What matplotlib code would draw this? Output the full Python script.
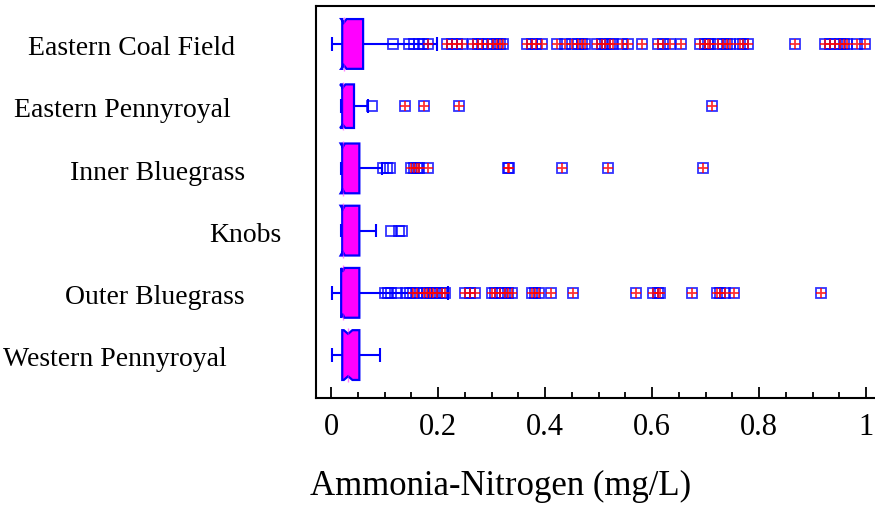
import matplotlib
matplotlib.use("Agg")
import matplotlib.pyplot as plt
from matplotlib.transforms import blended_transform_factory

# box-and-whisker summary per region (mg/L)
regions = ["Eastern Coal Field", "Eastern Pennyroyal", "Inner Bluegrass",
           "Knobs", "Outer Bluegrass", "Western Pennyroyal"]
whisker_low = [0.002, 0.018, 0.019, 0.019, 0.001, 0.001]
q1 = [0.021, 0.021, 0.021, 0.021, 0.019, 0.021]
median = [0.024, 0.022, 0.022, 0.022, 0.022, 0.032]
q3 = [0.060, 0.043, 0.053, 0.053, 0.053, 0.053]
whisker_high = [0.199, 0.069, 0.095, 0.085, 0.219, 0.092]
notch_low = [0.019, 0.017, 0.018, 0.018, 0.019, 0.024]
notch_high = [0.029, 0.027, 0.026, 0.026, 0.025, 0.040]

# outside points (square) and far outside points (square + plus)
near_points = [
    [0.116, 0.146, 0.155, 0.164, 0.172],
    [0.076],
    [0.098, 0.105, 0.110],
    [0.112, 0.128, 0.133],
    [0.101, 0.107, 0.113, 0.123, 0.141, 0.148],
    [],
]
far_points = [
    [0.182, 0.216, 0.226, 0.236, 0.244, 0.266, 0.275, 0.282, 0.294, 0.303,
     0.311, 0.316, 0.322, 0.366, 0.375, 0.384, 0.394, 0.422, 0.437, 0.450,
     0.462, 0.469, 0.475, 0.497, 0.506, 0.512, 0.521, 0.528, 0.543, 0.556,
     0.582, 0.612, 0.621, 0.634, 0.654, 0.690, 0.699, 0.705, 0.708, 0.724,
     0.733, 0.740, 0.746, 0.764, 0.771, 0.780, 0.867, 0.923, 0.933, 0.942,
     0.951, 0.958, 0.964, 0.983, 0.998],
    [0.138, 0.174, 0.240, 0.712],
    [0.150, 0.155, 0.161, 0.165, 0.182, 0.330, 0.333, 0.432, 0.518, 0.695],
    [],
    [0.154, 0.160, 0.173, 0.179, 0.185, 0.191, 0.198, 0.207, 0.213, 0.250,
     0.260, 0.269, 0.300, 0.307, 0.316, 0.325, 0.331, 0.338, 0.375, 0.381,
     0.388, 0.412, 0.453, 0.571, 0.602, 0.612, 0.615, 0.674, 0.721, 0.727,
     0.736, 0.754, 0.916],
    [],
]

tick_values = [0, 0.2, 0.4, 0.6, 0.8, 1]
tick_labels = ["0", "0.2", "0.4", "0.6", "0.8", "1"]

# layout
box_half = [0.40, 0.35, 0.40, 0.40, 0.40, 0.40]
label_center_px = [132, 122, 158, 245, 155, 115]
BLUE = "#0000ff"
MAGENTA = "#ff00ff"

plt.rcParams["font.family"] = ["Liberation Serif", "DejaVu Serif"]

fig = plt.figure(figsize=(8.75, 5.08), dpi=100)
W, H = 875, 508
ax = fig.add_axes([316 / W, 1 - 398 / H, (890 - 316) / W, (398 - 6) / H])

for i in range(len(regions)):
    h = box_half[i]
    cap = 0.11
    # whiskers
    ax.hlines(i, whisker_low[i], q1[i], color=BLUE, lw=1.5, zorder=2)
    ax.hlines(i, q3[i], whisker_high[i], color=BLUE, lw=1.5, zorder=2)
    ax.vlines([whisker_low[i], whisker_high[i]], i - cap, i + cap,
              color=BLUE, lw=1.5, zorder=2)
    # notched box
    xs = [q1[i], notch_low[i], median[i], notch_high[i], q3[i],
          q3[i], notch_high[i], median[i], notch_low[i], q1[i]]
    ys = [i - h, i - h, i - h * 0.85, i - h, i - h,
          i + h, i + h, i + h * 0.85, i + h, i + h]
    ax.fill(xs, ys, facecolor=MAGENTA, edgecolor=BLUE, lw=1.6, zorder=3)
    ax.vlines(median[i], i - h * 1.1, i + h * 1.1, color=MAGENTA,
              lw=1, alpha=0.5, zorder=4)
    # outliers
    pts = near_points[i] + far_points[i]
    if pts:
        ax.plot(pts, [i] * len(pts), ls="none", marker="s", ms=6.5,
                mfc="none", mec=BLUE, mew=1.3, alpha=0.8, zorder=5)
    if far_points[i]:
        ax.plot(far_points[i], [i] * len(far_points[i]), ls="none",
                marker="+", ms=7.5, mec="red", mew=1.3, alpha=0.8, zorder=6)

ax.set_xlim(-15 / 535, 559 / 535)
ax.set_ylim(5.69, -0.61)
ax.set_yticks([])
ax.set_xticks(tick_values)
ax.set_xticklabels(tick_labels, fontsize=22)
ax.set_xticks([0.05 * k for k in range(21)], minor=True)
ax.tick_params(axis="x", which="major", direction="in", length=8,
               width=1.3, pad=11)
ax.tick_params(axis="x", which="minor", direction="in", length=4, width=1.3)
for side in ["left", "bottom", "top", "right"]:
    ax.spines[side].set_linewidth(1.5)

trans = blended_transform_factory(fig.transFigure, ax.transData)
for i, name in enumerate(regions):
    ax.text(label_center_px[i] / W, i + 0.18, name, transform=trans,
            ha="center", va="baseline", fontsize=20, clip_on=False)

fig.text(501 / W, 1 - 486 / H, "Ammonia-Nitrogen (mg/L)", ha="center",
         va="center", fontsize=25)

fig.savefig("out.png", dpi=100)
